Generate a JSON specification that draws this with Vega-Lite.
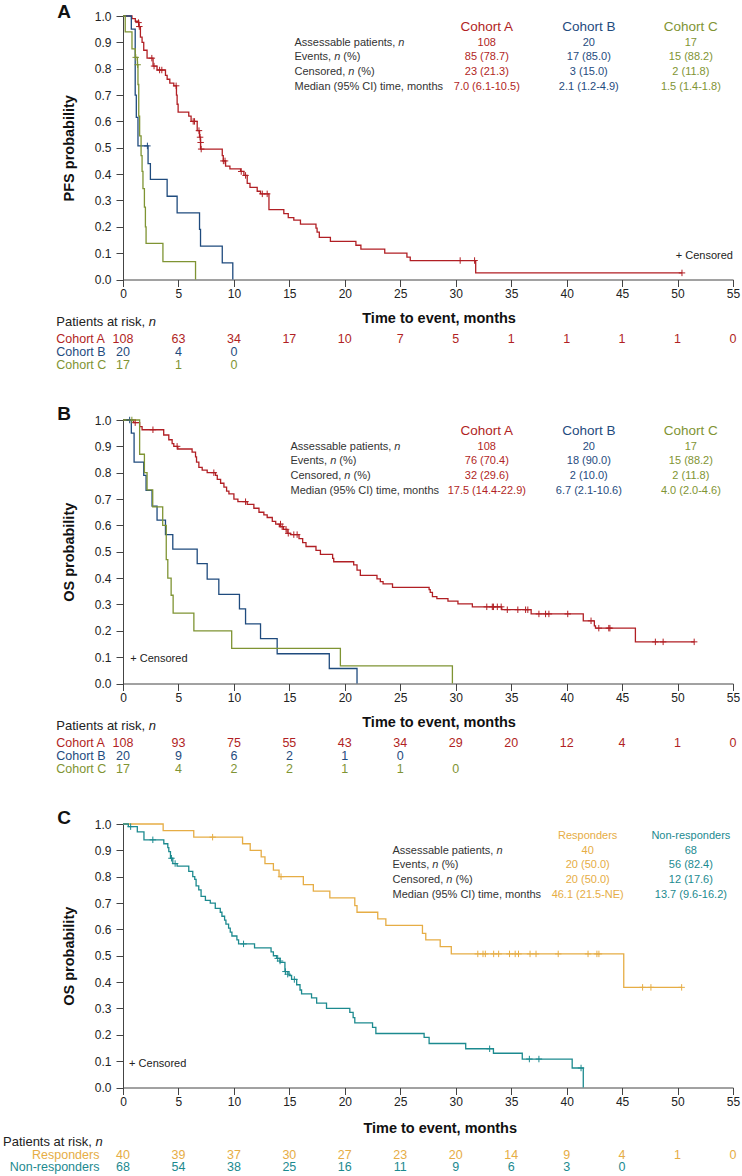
{
"$schema":"https://vega.github.io/schema/vega-lite/v6.json",
"padding":{"left":3,"top":3,"right":4,"bottom":2},
"bounds":"flush",
"spacing":40,
"config":{"font":"Liberation Sans","view":{"stroke":null},"axis":{"grid":false,"domainColor":"#444","tickColor":"#444","labelColor":"#222","labelFontSize":12,"tickSize":7,"domainWidth":1,"tickWidth":1,"labelOverlap":false}},
"datasets":{
"km":[
{"p":"A","g":"Cohort A","t":0,"s":1},{"p":"A","g":"Cohort A","t":0.81,"s":0.99},{"p":"A","g":"Cohort A","t":1.11,"s":0.98},{"p":"A","g":"Cohort A","t":1.42,"s":0.96},{"p":"A","g":"Cohort A","t":1.57,"s":0.92},{"p":"A","g":"Cohort A","t":1.72,"s":0.9},{"p":"A","g":"Cohort A","t":1.87,"s":0.87},{"p":"A","g":"Cohort A","t":2.17,"s":0.84},{"p":"A","g":"Cohort A","t":2.71,"s":0.81},{"p":"A","g":"Cohort A","t":3.07,"s":0.795},{"p":"A","g":"Cohort A","t":3.83,"s":0.775},{"p":"A","g":"Cohort A","t":3.98,"s":0.76},{"p":"A","g":"Cohort A","t":4.22,"s":0.745},{"p":"A","g":"Cohort A","t":4.58,"s":0.735},{"p":"A","g":"Cohort A","t":4.82,"s":0.7},{"p":"A","g":"Cohort A","t":4.88,"s":0.665},{"p":"A","g":"Cohort A","t":4.97,"s":0.635},{"p":"A","g":"Cohort A","t":5.93,"s":0.62},{"p":"A","g":"Cohort A","t":6.14,"s":0.6},{"p":"A","g":"Cohort A","t":6.69,"s":0.565},{"p":"A","g":"Cohort A","t":6.9,"s":0.54},{"p":"A","g":"Cohort A","t":6.99,"s":0.495},{"p":"A","g":"Cohort A","t":8.95,"s":0.47},{"p":"A","g":"Cohort A","t":9.04,"s":0.45},{"p":"A","g":"Cohort A","t":9.25,"s":0.43},{"p":"A","g":"Cohort A","t":9.64,"s":0.42},{"p":"A","g":"Cohort A","t":10.6,"s":0.41},{"p":"A","g":"Cohort A","t":10.9,"s":0.395},{"p":"A","g":"Cohort A","t":11.2,"s":0.365},{"p":"A","g":"Cohort A","t":11.45,"s":0.35},{"p":"A","g":"Cohort A","t":12.1,"s":0.335},{"p":"A","g":"Cohort A","t":12.4,"s":0.325},{"p":"A","g":"Cohort A","t":13.16,"s":0.265},{"p":"A","g":"Cohort A","t":14.5,"s":0.25},{"p":"A","g":"Cohort A","t":14.9,"s":0.235},{"p":"A","g":"Cohort A","t":15.4,"s":0.225},{"p":"A","g":"Cohort A","t":16,"s":0.21},{"p":"A","g":"Cohort A","t":17.4,"s":0.195},{"p":"A","g":"Cohort A","t":17.5,"s":0.18},{"p":"A","g":"Cohort A","t":17.7,"s":0.16},{"p":"A","g":"Cohort A","t":18.7,"s":0.145},{"p":"A","g":"Cohort A","t":21,"s":0.13},{"p":"A","g":"Cohort A","t":21.45,"s":0.115},{"p":"A","g":"Cohort A","t":23.6,"s":0.1},{"p":"A","g":"Cohort A","t":25.6,"s":0.085},{"p":"A","g":"Cohort A","t":25.9,"s":0.072},{"p":"A","g":"Cohort A","t":31.8,"s":0.025},{"p":"A","g":"Cohort A","t":50.4,"s":0.025},
{"p":"A","g":"Cohort B","t":0,"s":1},{"p":"A","g":"Cohort B","t":0.75,"s":0.95},{"p":"A","g":"Cohort B","t":1.1,"s":0.7},{"p":"A","g":"Cohort B","t":1.2,"s":0.615},{"p":"A","g":"Cohort B","t":1.35,"s":0.507},{"p":"A","g":"Cohort B","t":2.26,"s":0.44},{"p":"A","g":"Cohort B","t":2.47,"s":0.38},{"p":"A","g":"Cohort B","t":3.98,"s":0.316},{"p":"A","g":"Cohort B","t":4.88,"s":0.253},{"p":"A","g":"Cohort B","t":6.9,"s":0.19},{"p":"A","g":"Cohort B","t":6.99,"s":0.127},{"p":"A","g":"Cohort B","t":8.95,"s":0.063},{"p":"A","g":"Cohort B","t":9.9,"s":0},
{"p":"A","g":"Cohort C","t":0,"s":1},{"p":"A","g":"Cohort C","t":0.2,"s":0.94},{"p":"A","g":"Cohort C","t":0.81,"s":0.875},{"p":"A","g":"Cohort C","t":1.11,"s":0.843},{"p":"A","g":"Cohort C","t":1.3,"s":0.815},{"p":"A","g":"Cohort C","t":1.35,"s":0.74},{"p":"A","g":"Cohort C","t":1.42,"s":0.62},{"p":"A","g":"Cohort C","t":1.5,"s":0.545},{"p":"A","g":"Cohort C","t":1.63,"s":0.47},{"p":"A","g":"Cohort C","t":1.72,"s":0.41},{"p":"A","g":"Cohort C","t":1.8,"s":0.345},{"p":"A","g":"Cohort C","t":1.93,"s":0.275},{"p":"A","g":"Cohort C","t":2.02,"s":0.2},{"p":"A","g":"Cohort C","t":2.08,"s":0.137},{"p":"A","g":"Cohort C","t":3.6,"s":0.068},{"p":"A","g":"Cohort C","t":6.54,"s":0},
{"p":"B","g":"Cohort A","t":0,"s":1},{"p":"B","g":"Cohort A","t":0.96,"s":0.99},{"p":"B","g":"Cohort A","t":1.5,"s":0.975},{"p":"B","g":"Cohort A","t":1.72,"s":0.963},{"p":"B","g":"Cohort A","t":3.67,"s":0.943},{"p":"B","g":"Cohort A","t":4.13,"s":0.925},{"p":"B","g":"Cohort A","t":4.43,"s":0.91},{"p":"B","g":"Cohort A","t":4.58,"s":0.9},{"p":"B","g":"Cohort A","t":4.94,"s":0.89},{"p":"B","g":"Cohort A","t":6.23,"s":0.878},{"p":"B","g":"Cohort A","t":6.54,"s":0.86},{"p":"B","g":"Cohort A","t":6.63,"s":0.84},{"p":"B","g":"Cohort A","t":6.84,"s":0.82},{"p":"B","g":"Cohort A","t":7.14,"s":0.81},{"p":"B","g":"Cohort A","t":7.59,"s":0.8},{"p":"B","g":"Cohort A","t":8.34,"s":0.79},{"p":"B","g":"Cohort A","t":8.5,"s":0.775},{"p":"B","g":"Cohort A","t":8.8,"s":0.76},{"p":"B","g":"Cohort A","t":9.1,"s":0.745},{"p":"B","g":"Cohort A","t":9.34,"s":0.73},{"p":"B","g":"Cohort A","t":9.55,"s":0.72},{"p":"B","g":"Cohort A","t":10,"s":0.7},{"p":"B","g":"Cohort A","t":10.36,"s":0.69},{"p":"B","g":"Cohort A","t":11.2,"s":0.68},{"p":"B","g":"Cohort A","t":11.8,"s":0.665},{"p":"B","g":"Cohort A","t":12.26,"s":0.65},{"p":"B","g":"Cohort A","t":12.7,"s":0.64},{"p":"B","g":"Cohort A","t":13,"s":0.63},{"p":"B","g":"Cohort A","t":13.46,"s":0.615},{"p":"B","g":"Cohort A","t":13.77,"s":0.605},{"p":"B","g":"Cohort A","t":14.1,"s":0.595},{"p":"B","g":"Cohort A","t":14.46,"s":0.585},{"p":"B","g":"Cohort A","t":14.8,"s":0.57},{"p":"B","g":"Cohort A","t":15.1,"s":0.565},{"p":"B","g":"Cohort A","t":15.87,"s":0.55},{"p":"B","g":"Cohort A","t":16.2,"s":0.535},{"p":"B","g":"Cohort A","t":16.5,"s":0.52},{"p":"B","g":"Cohort A","t":17.4,"s":0.505},{"p":"B","g":"Cohort A","t":17.8,"s":0.49},{"p":"B","g":"Cohort A","t":18.9,"s":0.475},{"p":"B","g":"Cohort A","t":19,"s":0.462},{"p":"B","g":"Cohort A","t":20.8,"s":0.45},{"p":"B","g":"Cohort A","t":21.1,"s":0.43},{"p":"B","g":"Cohort A","t":21.4,"s":0.41},{"p":"B","g":"Cohort A","t":22.9,"s":0.397},{"p":"B","g":"Cohort A","t":23.2,"s":0.387},{"p":"B","g":"Cohort A","t":23.45,"s":0.378},{"p":"B","g":"Cohort A","t":24.3,"s":0.365},{"p":"B","g":"Cohort A","t":27.6,"s":0.356},{"p":"B","g":"Cohort A","t":27.7,"s":0.346},{"p":"B","g":"Cohort A","t":27.9,"s":0.33},{"p":"B","g":"Cohort A","t":28.3,"s":0.322},{"p":"B","g":"Cohort A","t":29.3,"s":0.313},{"p":"B","g":"Cohort A","t":30.2,"s":0.302},{"p":"B","g":"Cohort A","t":31.5,"s":0.291},{"p":"B","g":"Cohort A","t":34.15,"s":0.28},{"p":"B","g":"Cohort A","t":36.8,"s":0.264},{"p":"B","g":"Cohort A","t":41.5,"s":0.238},{"p":"B","g":"Cohort A","t":42.5,"s":0.219},{"p":"B","g":"Cohort A","t":42.6,"s":0.21},{"p":"B","g":"Cohort A","t":46.2,"s":0.158},{"p":"B","g":"Cohort A","t":51.5,"s":0.158},
{"p":"B","g":"Cohort B","t":0,"s":1},{"p":"B","g":"Cohort B","t":0.75,"s":0.95},{"p":"B","g":"Cohort B","t":1,"s":0.84},{"p":"B","g":"Cohort B","t":1.87,"s":0.79},{"p":"B","g":"Cohort B","t":2.08,"s":0.733},{"p":"B","g":"Cohort B","t":2.62,"s":0.673},{"p":"B","g":"Cohort B","t":3.07,"s":0.62},{"p":"B","g":"Cohort B","t":3.83,"s":0.565},{"p":"B","g":"Cohort B","t":4.49,"s":0.51},{"p":"B","g":"Cohort B","t":6.69,"s":0.455},{"p":"B","g":"Cohort B","t":7.59,"s":0.396},{"p":"B","g":"Cohort B","t":8.64,"s":0.338},{"p":"B","g":"Cohort B","t":10.5,"s":0.283},{"p":"B","g":"Cohort B","t":11.05,"s":0.226},{"p":"B","g":"Cohort B","t":12.4,"s":0.17},{"p":"B","g":"Cohort B","t":13.9,"s":0.113},{"p":"B","g":"Cohort B","t":18.6,"s":0.057},{"p":"B","g":"Cohort B","t":21.1,"s":0},
{"p":"B","g":"Cohort C","t":0,"s":1},{"p":"B","g":"Cohort C","t":1.5,"s":0.87},{"p":"B","g":"Cohort C","t":1.93,"s":0.8},{"p":"B","g":"Cohort C","t":2.17,"s":0.735},{"p":"B","g":"Cohort C","t":2.68,"s":0.67},{"p":"B","g":"Cohort C","t":3.58,"s":0.6},{"p":"B","g":"Cohort C","t":3.9,"s":0.47},{"p":"B","g":"Cohort C","t":4.04,"s":0.4},{"p":"B","g":"Cohort C","t":4.34,"s":0.335},{"p":"B","g":"Cohort C","t":4.52,"s":0.267},{"p":"B","g":"Cohort C","t":6.39,"s":0.2},{"p":"B","g":"Cohort C","t":9.8,"s":0.133},{"p":"B","g":"Cohort C","t":19.6,"s":0.067},{"p":"B","g":"Cohort C","t":29.7,"s":0},
{"p":"C","g":"Responders","t":0,"s":1},{"p":"C","g":"Responders","t":3.62,"s":0.975},{"p":"C","g":"Responders","t":6.38,"s":0.95},{"p":"C","g":"Responders","t":10.78,"s":0.925},{"p":"C","g":"Responders","t":11.47,"s":0.9},{"p":"C","g":"Responders","t":12.46,"s":0.875},{"p":"C","g":"Responders","t":12.8,"s":0.85},{"p":"C","g":"Responders","t":13.56,"s":0.825},{"p":"C","g":"Responders","t":14.07,"s":0.8},{"p":"C","g":"Responders","t":16.26,"s":0.77},{"p":"C","g":"Responders","t":17.16,"s":0.745},{"p":"C","g":"Responders","t":18.65,"s":0.72},{"p":"C","g":"Responders","t":20.9,"s":0.69},{"p":"C","g":"Responders","t":21.1,"s":0.665},{"p":"C","g":"Responders","t":22.97,"s":0.64},{"p":"C","g":"Responders","t":23.7,"s":0.615},{"p":"C","g":"Responders","t":27,"s":0.585},{"p":"C","g":"Responders","t":27.3,"s":0.56},{"p":"C","g":"Responders","t":28.6,"s":0.535},{"p":"C","g":"Responders","t":29.6,"s":0.507},{"p":"C","g":"Responders","t":45.15,"s":0.38},{"p":"C","g":"Responders","t":50.37,"s":0.38},
{"p":"C","g":"Non-responders","t":0,"s":1},{"p":"C","g":"Non-responders","t":0.48,"s":0.99},{"p":"C","g":"Non-responders","t":1.29,"s":0.97},{"p":"C","g":"Non-responders","t":1.89,"s":0.94},{"p":"C","g":"Non-responders","t":3.68,"s":0.925},{"p":"C","g":"Non-responders","t":4.04,"s":0.91},{"p":"C","g":"Non-responders","t":4.13,"s":0.895},{"p":"C","g":"Non-responders","t":4.28,"s":0.87},{"p":"C","g":"Non-responders","t":4.49,"s":0.85},{"p":"C","g":"Non-responders","t":4.88,"s":0.84},{"p":"C","g":"Non-responders","t":5.93,"s":0.82},{"p":"C","g":"Non-responders","t":6.29,"s":0.8},{"p":"C","g":"Non-responders","t":6.47,"s":0.79},{"p":"C","g":"Non-responders","t":6.59,"s":0.765},{"p":"C","g":"Non-responders","t":6.83,"s":0.75},{"p":"C","g":"Non-responders","t":7.04,"s":0.725},{"p":"C","g":"Non-responders","t":7.43,"s":0.71},{"p":"C","g":"Non-responders","t":7.87,"s":0.7},{"p":"C","g":"Non-responders","t":8.32,"s":0.68},{"p":"C","g":"Non-responders","t":8.77,"s":0.665},{"p":"C","g":"Non-responders","t":8.92,"s":0.65},{"p":"C","g":"Non-responders","t":9.16,"s":0.635},{"p":"C","g":"Non-responders","t":9.28,"s":0.62},{"p":"C","g":"Non-responders","t":9.52,"s":0.605},{"p":"C","g":"Non-responders","t":9.67,"s":0.59},{"p":"C","g":"Non-responders","t":9.82,"s":0.575},{"p":"C","g":"Non-responders","t":10.27,"s":0.56},{"p":"C","g":"Non-responders","t":10.42,"s":0.545},{"p":"C","g":"Non-responders","t":11.86,"s":0.53},{"p":"C","g":"Non-responders","t":13.35,"s":0.515},{"p":"C","g":"Non-responders","t":13.56,"s":0.5},{"p":"C","g":"Non-responders","t":13.86,"s":0.49},{"p":"C","g":"Non-responders","t":14.16,"s":0.475},{"p":"C","g":"Non-responders","t":14.6,"s":0.44},{"p":"C","g":"Non-responders","t":14.97,"s":0.425},{"p":"C","g":"Non-responders","t":15.2,"s":0.41},{"p":"C","g":"Non-responders","t":15.66,"s":0.39},{"p":"C","g":"Non-responders","t":15.96,"s":0.37},{"p":"C","g":"Non-responders","t":16.1,"s":0.355},{"p":"C","g":"Non-responders","t":17,"s":0.34},{"p":"C","g":"Non-responders","t":17.46,"s":0.32},{"p":"C","g":"Non-responders","t":18.35,"s":0.3},{"p":"C","g":"Non-responders","t":20.45,"s":0.285},{"p":"C","g":"Non-responders","t":20.75,"s":0.265},{"p":"C","g":"Non-responders","t":20.9,"s":0.245},{"p":"C","g":"Non-responders","t":22.5,"s":0.228},{"p":"C","g":"Non-responders","t":22.8,"s":0.205},{"p":"C","g":"Non-responders","t":27.15,"s":0.19},{"p":"C","g":"Non-responders","t":27.6,"s":0.167},{"p":"C","g":"Non-responders","t":30.9,"s":0.147},{"p":"C","g":"Non-responders","t":33.4,"s":0.13},{"p":"C","g":"Non-responders","t":36,"s":0.108},{"p":"C","g":"Non-responders","t":40.5,"s":0.074},{"p":"C","g":"Non-responders","t":41.5,"s":0}
],
"cens":[
{"p":"A","g":"Cohort A","t":1.4,"s":0.975},{"p":"A","g":"Cohort A","t":1.47,"s":0.96},{"p":"A","g":"Cohort A","t":2.6,"s":0.84},{"p":"A","g":"Cohort A","t":2.8,"s":0.81},{"p":"A","g":"Cohort A","t":3.3,"s":0.795},{"p":"A","g":"Cohort A","t":3.5,"s":0.795},{"p":"A","g":"Cohort A","t":4.79,"s":0.735},{"p":"A","g":"Cohort A","t":6.33,"s":0.6},{"p":"A","g":"Cohort A","t":6.45,"s":0.6},{"p":"A","g":"Cohort A","t":6.85,"s":0.565},{"p":"A","g":"Cohort A","t":6.95,"s":0.54},{"p":"A","g":"Cohort A","t":7,"s":0.52},{"p":"A","g":"Cohort A","t":7.05,"s":0.495},{"p":"A","g":"Cohort A","t":9.05,"s":0.45},{"p":"A","g":"Cohort A","t":9.2,"s":0.45},{"p":"A","g":"Cohort A","t":10.66,"s":0.41},{"p":"A","g":"Cohort A","t":11.05,"s":0.395},{"p":"A","g":"Cohort A","t":12.56,"s":0.325},{"p":"A","g":"Cohort A","t":13,"s":0.325},{"p":"A","g":"Cohort A","t":30.4,"s":0.072},{"p":"A","g":"Cohort A","t":31.7,"s":0.072},{"p":"A","g":"Cohort A","t":50.4,"s":0.025},
{"p":"A","g":"Cohort B","t":2.2,"s":0.507},
{"p":"A","g":"Cohort C","t":1.15,"s":0.843},{"p":"A","g":"Cohort C","t":1.32,"s":0.815},
{"p":"B","g":"Cohort A","t":1.1,"s":0.99},{"p":"B","g":"Cohort A","t":2.7,"s":0.963},{"p":"B","g":"Cohort A","t":4.88,"s":0.9},{"p":"B","g":"Cohort A","t":8.19,"s":0.8},{"p":"B","g":"Cohort A","t":11.05,"s":0.69},{"p":"B","g":"Cohort A","t":14.2,"s":0.605},{"p":"B","g":"Cohort A","t":14.35,"s":0.595},{"p":"B","g":"Cohort A","t":14.7,"s":0.585},{"p":"B","g":"Cohort A","t":14.9,"s":0.57},{"p":"B","g":"Cohort A","t":15.4,"s":0.565},{"p":"B","g":"Cohort A","t":15.7,"s":0.565},{"p":"B","g":"Cohort A","t":32.8,"s":0.291},{"p":"B","g":"Cohort A","t":33.3,"s":0.291},{"p":"B","g":"Cohort A","t":33.4,"s":0.291},{"p":"B","g":"Cohort A","t":33.75,"s":0.291},{"p":"B","g":"Cohort A","t":34.1,"s":0.291},{"p":"B","g":"Cohort A","t":34.65,"s":0.28},{"p":"B","g":"Cohort A","t":35.6,"s":0.28},{"p":"B","g":"Cohort A","t":36.3,"s":0.28},{"p":"B","g":"Cohort A","t":36.5,"s":0.28},{"p":"B","g":"Cohort A","t":37.5,"s":0.264},{"p":"B","g":"Cohort A","t":38.1,"s":0.264},{"p":"B","g":"Cohort A","t":38.4,"s":0.264},{"p":"B","g":"Cohort A","t":40.1,"s":0.264},{"p":"B","g":"Cohort A","t":42.2,"s":0.238},{"p":"B","g":"Cohort A","t":42.9,"s":0.21},{"p":"B","g":"Cohort A","t":43.8,"s":0.21},{"p":"B","g":"Cohort A","t":43.9,"s":0.21},{"p":"B","g":"Cohort A","t":48,"s":0.158},{"p":"B","g":"Cohort A","t":48.7,"s":0.158},{"p":"B","g":"Cohort A","t":51.5,"s":0.158},
{"p":"B","g":"Cohort B","t":0.6,"s":1},
{"p":"B","g":"Cohort C","t":0.8,"s":1},
{"p":"C","g":"Responders","t":8.08,"s":0.95},{"p":"C","g":"Responders","t":14.25,"s":0.8},{"p":"C","g":"Responders","t":31.99,"s":0.507},{"p":"C","g":"Responders","t":32.46,"s":0.507},{"p":"C","g":"Responders","t":32.67,"s":0.507},{"p":"C","g":"Responders","t":33.42,"s":0.507},{"p":"C","g":"Responders","t":33.87,"s":0.507},{"p":"C","g":"Responders","t":34.85,"s":0.507},{"p":"C","g":"Responders","t":35.36,"s":0.507},{"p":"C","g":"Responders","t":35.66,"s":0.507},{"p":"C","g":"Responders","t":36.7,"s":0.507},{"p":"C","g":"Responders","t":37.24,"s":0.507},{"p":"C","g":"Responders","t":39.24,"s":0.507},{"p":"C","g":"Responders","t":41.93,"s":0.507},{"p":"C","g":"Responders","t":42.73,"s":0.507},{"p":"C","g":"Responders","t":42.91,"s":0.507},{"p":"C","g":"Responders","t":46.85,"s":0.38},{"p":"C","g":"Responders","t":47.6,"s":0.38},{"p":"C","g":"Responders","t":50.37,"s":0.38},
{"p":"C","g":"Non-responders","t":0.69,"s":0.99},{"p":"C","g":"Non-responders","t":2.69,"s":0.94},{"p":"C","g":"Non-responders","t":4.37,"s":0.87},{"p":"C","g":"Non-responders","t":4.7,"s":0.85},{"p":"C","g":"Non-responders","t":10.87,"s":0.545},{"p":"C","g":"Non-responders","t":13.95,"s":0.49},{"p":"C","g":"Non-responders","t":14.16,"s":0.48},{"p":"C","g":"Non-responders","t":14.65,"s":0.44},{"p":"C","g":"Non-responders","t":14.85,"s":0.43},{"p":"C","g":"Non-responders","t":15.45,"s":0.41},{"p":"C","g":"Non-responders","t":33.06,"s":0.147},{"p":"C","g":"Non-responders","t":36.64,"s":0.108},{"p":"C","g":"Non-responders","t":37.5,"s":0.108},{"p":"C","g":"Non-responders","t":41.3,"s":0.074}
],
"stats":[
{"p":"A","c":"label","r":"Assessable","txt":"Assessable patients, "},{"p":"A","c":"label","r":"Events","txt":"Events, "},{"p":"A","c":"label","r":"Censored","txt":"Censored, "},{"p":"A","c":"label","r":"Median","txt":"Median (95% CI) time, months"},
{"p":"A","c":"Cohort A","r":"Header","txt":"Cohort A"},{"p":"A","c":"Cohort A","r":"Assessable","txt":"108"},{"p":"A","c":"Cohort A","r":"Events","txt":"85 (78.7)"},{"p":"A","c":"Cohort A","r":"Censored","txt":"23 (21.3)"},{"p":"A","c":"Cohort A","r":"Median","txt":"7.0 (6.1-10.5)"},
{"p":"A","c":"Cohort B","r":"Header","txt":"Cohort B"},{"p":"A","c":"Cohort B","r":"Assessable","txt":"20"},{"p":"A","c":"Cohort B","r":"Events","txt":"17 (85.0)"},{"p":"A","c":"Cohort B","r":"Censored","txt":"3 (15.0)"},{"p":"A","c":"Cohort B","r":"Median","txt":"2.1 (1.2-4.9)"},
{"p":"A","c":"Cohort C","r":"Header","txt":"Cohort C"},{"p":"A","c":"Cohort C","r":"Assessable","txt":"17"},{"p":"A","c":"Cohort C","r":"Events","txt":"15 (88.2)"},{"p":"A","c":"Cohort C","r":"Censored","txt":"2 (11.8)"},{"p":"A","c":"Cohort C","r":"Median","txt":"1.5 (1.4-1.8)"},
{"p":"B","c":"label","r":"Assessable","txt":"Assessable patients, "},{"p":"B","c":"label","r":"Events","txt":"Events, "},{"p":"B","c":"label","r":"Censored","txt":"Censored, "},{"p":"B","c":"label","r":"Median","txt":"Median (95% CI) time, months"},
{"p":"B","c":"Cohort A","r":"Header","txt":"Cohort A"},{"p":"B","c":"Cohort A","r":"Assessable","txt":"108"},{"p":"B","c":"Cohort A","r":"Events","txt":"76 (70.4)"},{"p":"B","c":"Cohort A","r":"Censored","txt":"32 (29.6)"},{"p":"B","c":"Cohort A","r":"Median","txt":"17.5 (14.4-22.9)"},
{"p":"B","c":"Cohort B","r":"Header","txt":"Cohort B"},{"p":"B","c":"Cohort B","r":"Assessable","txt":"20"},{"p":"B","c":"Cohort B","r":"Events","txt":"18 (90.0)"},{"p":"B","c":"Cohort B","r":"Censored","txt":"2 (10.0)"},{"p":"B","c":"Cohort B","r":"Median","txt":"6.7 (2.1-10.6)"},
{"p":"B","c":"Cohort C","r":"Header","txt":"Cohort C"},{"p":"B","c":"Cohort C","r":"Assessable","txt":"17"},{"p":"B","c":"Cohort C","r":"Events","txt":"15 (88.2)"},{"p":"B","c":"Cohort C","r":"Censored","txt":"2 (11.8)"},{"p":"B","c":"Cohort C","r":"Median","txt":"4.0 (2.0-4.6)"},
{"p":"C","c":"label","r":"Assessable","txt":"Assessable patients, "},{"p":"C","c":"label","r":"Events","txt":"Events, "},{"p":"C","c":"label","r":"Censored","txt":"Censored, "},{"p":"C","c":"label","r":"Median","txt":"Median (95% CI) time, months"},
{"p":"C","c":"Responders","r":"Header","txt":"Responders"},{"p":"C","c":"Responders","r":"Assessable","txt":"40"},{"p":"C","c":"Responders","r":"Events","txt":"20 (50.0)"},{"p":"C","c":"Responders","r":"Censored","txt":"20 (50.0)"},{"p":"C","c":"Responders","r":"Median","txt":"46.1 (21.5-NE)"},
{"p":"C","c":"Non-responders","r":"Header","txt":"Non-responders"},{"p":"C","c":"Non-responders","r":"Assessable","txt":"68"},{"p":"C","c":"Non-responders","r":"Events","txt":"56 (82.4)"},{"p":"C","c":"Non-responders","r":"Censored","txt":"12 (17.6)"},{"p":"C","c":"Non-responders","r":"Median","txt":"13.7 (9.6-16.2)"}
],
"risk":[
{"p":"A","g":"Cohort A","t":0,"n":"108"},{"p":"A","g":"Cohort A","t":5,"n":"63"},{"p":"A","g":"Cohort A","t":10,"n":"34"},{"p":"A","g":"Cohort A","t":15,"n":"17"},{"p":"A","g":"Cohort A","t":20,"n":"10"},{"p":"A","g":"Cohort A","t":25,"n":"7"},{"p":"A","g":"Cohort A","t":30,"n":"5"},{"p":"A","g":"Cohort A","t":35,"n":"1"},{"p":"A","g":"Cohort A","t":40,"n":"1"},{"p":"A","g":"Cohort A","t":45,"n":"1"},{"p":"A","g":"Cohort A","t":50,"n":"1"},{"p":"A","g":"Cohort A","t":55,"n":"0"},
{"p":"A","g":"Cohort B","t":0,"n":"20"},{"p":"A","g":"Cohort B","t":5,"n":"4"},{"p":"A","g":"Cohort B","t":10,"n":"0"},
{"p":"A","g":"Cohort C","t":0,"n":"17"},{"p":"A","g":"Cohort C","t":5,"n":"1"},{"p":"A","g":"Cohort C","t":10,"n":"0"},
{"p":"B","g":"Cohort A","t":0,"n":"108"},{"p":"B","g":"Cohort A","t":5,"n":"93"},{"p":"B","g":"Cohort A","t":10,"n":"75"},{"p":"B","g":"Cohort A","t":15,"n":"55"},{"p":"B","g":"Cohort A","t":20,"n":"43"},{"p":"B","g":"Cohort A","t":25,"n":"34"},{"p":"B","g":"Cohort A","t":30,"n":"29"},{"p":"B","g":"Cohort A","t":35,"n":"20"},{"p":"B","g":"Cohort A","t":40,"n":"12"},{"p":"B","g":"Cohort A","t":45,"n":"4"},{"p":"B","g":"Cohort A","t":50,"n":"1"},{"p":"B","g":"Cohort A","t":55,"n":"0"},
{"p":"B","g":"Cohort B","t":0,"n":"20"},{"p":"B","g":"Cohort B","t":5,"n":"9"},{"p":"B","g":"Cohort B","t":10,"n":"6"},{"p":"B","g":"Cohort B","t":15,"n":"2"},{"p":"B","g":"Cohort B","t":20,"n":"1"},{"p":"B","g":"Cohort B","t":25,"n":"0"},
{"p":"B","g":"Cohort C","t":0,"n":"17"},{"p":"B","g":"Cohort C","t":5,"n":"4"},{"p":"B","g":"Cohort C","t":10,"n":"2"},{"p":"B","g":"Cohort C","t":15,"n":"2"},{"p":"B","g":"Cohort C","t":20,"n":"1"},{"p":"B","g":"Cohort C","t":25,"n":"1"},{"p":"B","g":"Cohort C","t":30,"n":"0"},
{"p":"C","g":"Responders","t":0,"n":"40"},{"p":"C","g":"Responders","t":5,"n":"39"},{"p":"C","g":"Responders","t":10,"n":"37"},{"p":"C","g":"Responders","t":15,"n":"30"},{"p":"C","g":"Responders","t":20,"n":"27"},{"p":"C","g":"Responders","t":25,"n":"23"},{"p":"C","g":"Responders","t":30,"n":"20"},{"p":"C","g":"Responders","t":35,"n":"14"},{"p":"C","g":"Responders","t":40,"n":"9"},{"p":"C","g":"Responders","t":45,"n":"4"},{"p":"C","g":"Responders","t":50,"n":"1"},{"p":"C","g":"Responders","t":55,"n":"0"},
{"p":"C","g":"Non-responders","t":0,"n":"68"},{"p":"C","g":"Non-responders","t":5,"n":"54"},{"p":"C","g":"Non-responders","t":10,"n":"38"},{"p":"C","g":"Non-responders","t":15,"n":"25"},{"p":"C","g":"Non-responders","t":20,"n":"16"},{"p":"C","g":"Non-responders","t":25,"n":"11"},{"p":"C","g":"Non-responders","t":30,"n":"9"},{"p":"C","g":"Non-responders","t":35,"n":"6"},{"p":"C","g":"Non-responders","t":40,"n":"3"},{"p":"C","g":"Non-responders","t":45,"n":"0"}
]
},
"vconcat":[
 {"width":610,"height":263.5,"resolve":{"scale":{"y":"independent"}},
  "layer":[
   {"layer":[
    {"data":{"name":"km"},"transform":[{"filter":"datum.p==='A'"}],"mark":{"type":"line","interpolate":"step-after","strokeWidth":1.3},
     "encoding":{"x":{"field":"t","type":"quantitative","scale":{"domain":[0,55],"nice":false,"zero":false},"axis":{"values":[0,5,10,15,20,25,30,35,40,45,50,55],"tickCount":12,"title":null,"labelFlush":false,"labelOverlap":false,"labelPadding":2}},
      "y":{"field":"s","type":"quantitative","scale":{"domain":[0,1],"nice":false},"axis":{"values":[0,0.1,0.2,0.3,0.4,0.5,0.6,0.7,0.8,0.9,1],"tickCount":11,"format":".1f","title":"PFS probability","labelOverlap":false,"labelPadding":5,"titlePadding":18,"titleFontSize":14.5,"titleFontWeight":"bold","titleColor":"#111"}},
      "color":{"field":"g","type":"nominal","scale":{"domain":["Cohort A","Cohort B","Cohort C","Responders","Non-responders"],"range":["#B11F24","#1F4B7E","#7F9433","#E6AD45","#1C8A8F"]},"legend":null}}},
    {"data":{"name":"cens"},"transform":[{"filter":"datum.p==='A'"}],"mark":{"type":"point","shape":"M-1,0H1M0,-1V1","size":42,"strokeWidth":1,"filled":false,"opacity":1},
     "encoding":{"x":{"field":"t","type":"quantitative"},"y":{"field":"s","type":"quantitative"},"color":{"field":"g","type":"nominal","legend":null}}},
    {"data":{"values":[{}]},"mark":{"type":"text","text":"+ Censored","align":"right","baseline":"middle","fontSize":11,"color":"#222"},"encoding":{"x":{"datum":55},"y":{"datum":0.091}}},
    {"data":{"values":[{}]},"mark":{"type":"text","text":"A","align":"center","baseline":"middle","fontSize":19,"fontWeight":"bold","color":"#111","dy":-4},"encoding":{"x":{"datum":-5.3},"y":{"datum":1}}}
   ]},
   {"layer":[
    {"data":{"name":"stats"},"transform":[{"filter":"datum.p==='A' && datum.c==='label'"}],"mark":{"type":"text","align":"left","baseline":"middle","fontSize":11,"color":"#333"},
     "encoding":{"x":{"datum":15.46},"y":{"field":"r","type":"ordinal","scale":{"type":"point","domain":["Header","Assessable","Events","Censored","Median","z1","z2","z3","z4","z5","z6","z7","z8","z9","z10","z11","z12","z13"],"padding":0.525,"align":0.802,"round":false},"axis":null},"text":{"field":"txt"}}},
    {"data":{"values":[{}]},"mark":{"type":"text","text":"n","fontStyle":"italic","align":"left","baseline":"middle","fontSize":11,"color":"#333","dx":103.9},"encoding":{"x":{"datum":15.46},"y":{"datum":"Assessable","type":"ordinal"}}},
    {"data":{"values":[{}]},"mark":{"type":"text","text":"n","fontStyle":"italic","align":"left","baseline":"middle","fontSize":11,"color":"#333","dx":39.7},"encoding":{"x":{"datum":15.46},"y":{"datum":"Events","type":"ordinal"}}},
    {"data":{"values":[{}]},"mark":{"type":"text","text":"(%)","align":"left","baseline":"middle","fontSize":11,"color":"#333","dx":48.9},"encoding":{"x":{"datum":15.46},"y":{"datum":"Events","type":"ordinal"}}},
    {"data":{"values":[{}]},"mark":{"type":"text","text":"n","fontStyle":"italic","align":"left","baseline":"middle","fontSize":11,"color":"#333","dx":53.8},"encoding":{"x":{"datum":15.46},"y":{"datum":"Censored","type":"ordinal"}}},
    {"data":{"values":[{}]},"mark":{"type":"text","text":"(%)","align":"left","baseline":"middle","fontSize":11,"color":"#333","dx":63.0},"encoding":{"x":{"datum":15.46},"y":{"datum":"Censored","type":"ordinal"}}},
    {"data":{"name":"stats"},"transform":[{"filter":"datum.p==='A' && datum.c==='Cohort A' && datum.r!=='Header'"}],"mark":{"type":"text","align":"center","baseline":"middle","fontSize":11,"color":"#B11F24"},"encoding":{"x":{"datum":32.8},"y":{"field":"r","type":"ordinal"},"text":{"field":"txt"}}},
    {"data":{"name":"stats"},"transform":[{"filter":"datum.p==='A' && datum.c==='Cohort A' && datum.r==='Header'"}],"mark":{"type":"text","align":"center","baseline":"middle","fontSize":13.5,"color":"#B11F24","dy":-1},"encoding":{"x":{"datum":32.8},"y":{"field":"r","type":"ordinal"},"text":{"field":"txt"}}},
    {"data":{"name":"stats"},"transform":[{"filter":"datum.p==='A' && datum.c==='Cohort B' && datum.r!=='Header'"}],"mark":{"type":"text","align":"center","baseline":"middle","fontSize":11,"color":"#1F4B7E"},"encoding":{"x":{"datum":42.0},"y":{"field":"r","type":"ordinal"},"text":{"field":"txt"}}},
    {"data":{"name":"stats"},"transform":[{"filter":"datum.p==='A' && datum.c==='Cohort B' && datum.r==='Header'"}],"mark":{"type":"text","align":"center","baseline":"middle","fontSize":13.5,"color":"#1F4B7E","dy":-1},"encoding":{"x":{"datum":42.0},"y":{"field":"r","type":"ordinal"},"text":{"field":"txt"}}},
    {"data":{"name":"stats"},"transform":[{"filter":"datum.p==='A' && datum.c==='Cohort C' && datum.r!=='Header'"}],"mark":{"type":"text","align":"center","baseline":"middle","fontSize":11,"color":"#7F9433"},"encoding":{"x":{"datum":51.2},"y":{"field":"r","type":"ordinal"},"text":{"field":"txt"}}},
    {"data":{"name":"stats"},"transform":[{"filter":"datum.p==='A' && datum.c==='Cohort C' && datum.r==='Header'"}],"mark":{"type":"text","align":"center","baseline":"middle","fontSize":13.5,"color":"#7F9433","dy":-1},"encoding":{"x":{"datum":51.2},"y":{"field":"r","type":"ordinal"},"text":{"field":"txt"}}}
   ]}
  ]},
 {"width":610,"height":60,
  "layer":[
   {"data":{"name":"risk"},"transform":[{"filter":"datum.p==='A'"}],"mark":{"type":"text","fontSize":12.5,"baseline":"middle","align":"center"},
    "encoding":{"x":{"field":"t","type":"quantitative","scale":{"domain":[0,55],"nice":false,"zero":false},"axis":null},
     "y":{"field":"g","type":"ordinal","scale":{"type":"point","domain":["header","Cohort A","Cohort B","Cohort C"],"padding":0.808,"align":0.3095,"round":false},"axis":null},
     "text":{"field":"n"},
     "color":{"field":"g","type":"nominal","scale":{"domain":["Cohort A","Cohort B","Cohort C","Responders","Non-responders"],"range":["#B11F24","#1F4B7E","#7F9433","#E6AD45","#1C8A8F"]},"legend":null}}},
   {"data":{"name":"risk"},"transform":[{"filter":"datum.p==='A' && datum.t===0"}],"mark":{"type":"text","fontSize":12.5,"baseline":"middle","align":"left","dx":-66.7},
    "encoding":{"x":{"datum":0},"y":{"field":"g","type":"ordinal"},"text":{"field":"g"},"color":{"field":"g","type":"nominal","legend":null}}},
   {"data":{"values":[{}]},"mark":{"type":"text","text":"Patients at risk, ","fontSize":13,"baseline":"middle","align":"left","dx":-66.7,"dy":-5,"color":"#222"},"encoding":{"x":{"datum":0},"y":{"datum":"header","type":"ordinal"}}},
   {"data":{"values":[{}]},"mark":{"type":"text","text":"n","fontStyle":"italic","fontSize":13,"baseline":"middle","align":"left","dx":25.8,"dy":-5,"color":"#222"},"encoding":{"x":{"datum":0},"y":{"datum":"header","type":"ordinal"}}},
   {"data":{"values":[{}]},"mark":{"type":"text","text":"Time to event, months","fontSize":14.5,"fontWeight":"bold","baseline":"middle","align":"center","dy":-8,"color":"#111"},"encoding":{"x":{"datum":28.5},"y":{"datum":"header","type":"ordinal"}}}
  ]},
 {"width":610,"height":263.5,"resolve":{"scale":{"y":"independent"}},
  "layer":[
   {"layer":[
    {"data":{"name":"km"},"transform":[{"filter":"datum.p==='B'"}],"mark":{"type":"line","interpolate":"step-after","strokeWidth":1.3},
     "encoding":{"x":{"field":"t","type":"quantitative","scale":{"domain":[0,55],"nice":false,"zero":false},"axis":{"values":[0,5,10,15,20,25,30,35,40,45,50,55],"tickCount":12,"title":null,"labelFlush":false,"labelOverlap":false,"labelPadding":2}},
      "y":{"field":"s","type":"quantitative","scale":{"domain":[0,1],"nice":false},"axis":{"values":[0,0.1,0.2,0.3,0.4,0.5,0.6,0.7,0.8,0.9,1],"tickCount":11,"format":".1f","title":"OS probability","labelOverlap":false,"labelPadding":5,"titlePadding":18,"titleFontSize":14.5,"titleFontWeight":"bold","titleColor":"#111"}},
      "color":{"field":"g","type":"nominal","scale":{"domain":["Cohort A","Cohort B","Cohort C","Responders","Non-responders"],"range":["#B11F24","#1F4B7E","#7F9433","#E6AD45","#1C8A8F"]},"legend":null}}},
    {"data":{"name":"cens"},"transform":[{"filter":"datum.p==='B'"}],"mark":{"type":"point","shape":"M-1,0H1M0,-1V1","size":42,"strokeWidth":1,"filled":false,"opacity":1},
     "encoding":{"x":{"field":"t","type":"quantitative"},"y":{"field":"s","type":"quantitative"},"color":{"field":"g","type":"nominal","legend":null}}},
    {"data":{"values":[{}]},"mark":{"type":"text","text":"+ Censored","align":"left","baseline":"middle","fontSize":11,"color":"#222"},"encoding":{"x":{"datum":0.66},"y":{"datum":0.092}}},
    {"data":{"values":[{}]},"mark":{"type":"text","text":"B","align":"center","baseline":"middle","fontSize":19,"fontWeight":"bold","color":"#111","dy":-6},"encoding":{"x":{"datum":-5.3},"y":{"datum":1}}}
   ]},
   {"layer":[
    {"data":{"name":"stats"},"transform":[{"filter":"datum.p==='B' && datum.c==='label'"}],"mark":{"type":"text","align":"left","baseline":"middle","fontSize":11,"color":"#333"},
     "encoding":{"x":{"datum":15.1},"y":{"field":"r","type":"ordinal","scale":{"type":"point","domain":["Header","Assessable","Events","Censored","Median","z1","z2","z3","z4","z5","z6","z7","z8","z9","z10","z11","z12","z13"],"padding":0.525,"align":0.802,"round":false},"axis":null},"text":{"field":"txt"}}},
    {"data":{"values":[{}]},"mark":{"type":"text","text":"n","fontStyle":"italic","align":"left","baseline":"middle","fontSize":11,"color":"#333","dx":103.9},"encoding":{"x":{"datum":15.1},"y":{"datum":"Assessable","type":"ordinal"}}},
    {"data":{"values":[{}]},"mark":{"type":"text","text":"n","fontStyle":"italic","align":"left","baseline":"middle","fontSize":11,"color":"#333","dx":39.7},"encoding":{"x":{"datum":15.1},"y":{"datum":"Events","type":"ordinal"}}},
    {"data":{"values":[{}]},"mark":{"type":"text","text":"(%)","align":"left","baseline":"middle","fontSize":11,"color":"#333","dx":48.9},"encoding":{"x":{"datum":15.1},"y":{"datum":"Events","type":"ordinal"}}},
    {"data":{"values":[{}]},"mark":{"type":"text","text":"n","fontStyle":"italic","align":"left","baseline":"middle","fontSize":11,"color":"#333","dx":53.8},"encoding":{"x":{"datum":15.1},"y":{"datum":"Censored","type":"ordinal"}}},
    {"data":{"values":[{}]},"mark":{"type":"text","text":"(%)","align":"left","baseline":"middle","fontSize":11,"color":"#333","dx":63.0},"encoding":{"x":{"datum":15.1},"y":{"datum":"Censored","type":"ordinal"}}},
    {"data":{"name":"stats"},"transform":[{"filter":"datum.p==='B' && datum.c==='Cohort A' && datum.r!=='Header'"}],"mark":{"type":"text","align":"center","baseline":"middle","fontSize":11,"color":"#B11F24"},"encoding":{"x":{"datum":32.8},"y":{"field":"r","type":"ordinal"},"text":{"field":"txt"}}},
    {"data":{"name":"stats"},"transform":[{"filter":"datum.p==='B' && datum.c==='Cohort A' && datum.r==='Header'"}],"mark":{"type":"text","align":"center","baseline":"middle","fontSize":13.5,"color":"#B11F24","dy":-1},"encoding":{"x":{"datum":32.8},"y":{"field":"r","type":"ordinal"},"text":{"field":"txt"}}},
    {"data":{"name":"stats"},"transform":[{"filter":"datum.p==='B' && datum.c==='Cohort B' && datum.r!=='Header'"}],"mark":{"type":"text","align":"center","baseline":"middle","fontSize":11,"color":"#1F4B7E"},"encoding":{"x":{"datum":42.0},"y":{"field":"r","type":"ordinal"},"text":{"field":"txt"}}},
    {"data":{"name":"stats"},"transform":[{"filter":"datum.p==='B' && datum.c==='Cohort B' && datum.r==='Header'"}],"mark":{"type":"text","align":"center","baseline":"middle","fontSize":13.5,"color":"#1F4B7E","dy":-1},"encoding":{"x":{"datum":42.0},"y":{"field":"r","type":"ordinal"},"text":{"field":"txt"}}},
    {"data":{"name":"stats"},"transform":[{"filter":"datum.p==='B' && datum.c==='Cohort C' && datum.r!=='Header'"}],"mark":{"type":"text","align":"center","baseline":"middle","fontSize":11,"color":"#7F9433"},"encoding":{"x":{"datum":51.2},"y":{"field":"r","type":"ordinal"},"text":{"field":"txt"}}},
    {"data":{"name":"stats"},"transform":[{"filter":"datum.p==='B' && datum.c==='Cohort C' && datum.r==='Header'"}],"mark":{"type":"text","align":"center","baseline":"middle","fontSize":13.5,"color":"#7F9433","dy":-1},"encoding":{"x":{"datum":51.2},"y":{"field":"r","type":"ordinal"},"text":{"field":"txt"}}}
   ]}
  ]},
 {"width":610,"height":60,
  "layer":[
   {"data":{"name":"risk"},"transform":[{"filter":"datum.p==='B'"}],"mark":{"type":"text","fontSize":12.5,"baseline":"middle","align":"center"},
    "encoding":{"x":{"field":"t","type":"quantitative","scale":{"domain":[0,55],"nice":false,"zero":false},"axis":null},
     "y":{"field":"g","type":"ordinal","scale":{"type":"point","domain":["header","Cohort A","Cohort B","Cohort C"],"padding":0.808,"align":0.3095,"round":false},"axis":null},
     "text":{"field":"n"},
     "color":{"field":"g","type":"nominal","scale":{"domain":["Cohort A","Cohort B","Cohort C","Responders","Non-responders"],"range":["#B11F24","#1F4B7E","#7F9433","#E6AD45","#1C8A8F"]},"legend":null}}},
   {"data":{"name":"risk"},"transform":[{"filter":"datum.p==='B' && datum.t===0"}],"mark":{"type":"text","fontSize":12.5,"baseline":"middle","align":"left","dx":-66.7},
    "encoding":{"x":{"datum":0},"y":{"field":"g","type":"ordinal"},"text":{"field":"g"},"color":{"field":"g","type":"nominal","legend":null}}},
   {"data":{"values":[{}]},"mark":{"type":"text","text":"Patients at risk, ","fontSize":13,"baseline":"middle","align":"left","dx":-66.7,"dy":-5,"color":"#222"},"encoding":{"x":{"datum":0},"y":{"datum":"header","type":"ordinal"}}},
   {"data":{"values":[{}]},"mark":{"type":"text","text":"n","fontStyle":"italic","fontSize":13,"baseline":"middle","align":"left","dx":25.8,"dy":-5,"color":"#222"},"encoding":{"x":{"datum":0},"y":{"datum":"header","type":"ordinal"}}},
   {"data":{"values":[{}]},"mark":{"type":"text","text":"Time to event, months","fontSize":14.5,"fontWeight":"bold","baseline":"middle","align":"center","dy":-8,"color":"#111"},"encoding":{"x":{"datum":28.5},"y":{"datum":"header","type":"ordinal"}}}
  ]},
 {"width":610,"height":263.5,"resolve":{"scale":{"y":"independent"}},
  "layer":[
   {"layer":[
    {"data":{"name":"km"},"transform":[{"filter":"datum.p==='C'"}],"mark":{"type":"line","interpolate":"step-after","strokeWidth":1.3},
     "encoding":{"x":{"field":"t","type":"quantitative","scale":{"domain":[0,55],"nice":false,"zero":false},"axis":{"values":[0,5,10,15,20,25,30,35,40,45,50,55],"tickCount":12,"title":null,"labelFlush":false,"labelOverlap":false,"labelPadding":2}},
      "y":{"field":"s","type":"quantitative","scale":{"domain":[0,1],"nice":false},"axis":{"values":[0,0.1,0.2,0.3,0.4,0.5,0.6,0.7,0.8,0.9,1],"tickCount":11,"format":".1f","title":"OS probability","labelOverlap":false,"labelPadding":5,"titlePadding":18,"titleFontSize":14.5,"titleFontWeight":"bold","titleColor":"#111"}},
      "color":{"field":"g","type":"nominal","scale":{"domain":["Cohort A","Cohort B","Cohort C","Responders","Non-responders"],"range":["#B11F24","#1F4B7E","#7F9433","#E6AD45","#1C8A8F"]},"legend":null}}},
    {"data":{"name":"cens"},"transform":[{"filter":"datum.p==='C'"}],"mark":{"type":"point","shape":"M-1,0H1M0,-1V1","size":42,"strokeWidth":1,"filled":false,"opacity":1},
     "encoding":{"x":{"field":"t","type":"quantitative"},"y":{"field":"s","type":"quantitative"},"color":{"field":"g","type":"nominal","legend":null}}},
    {"data":{"values":[{}]},"mark":{"type":"text","text":"+ Censored","align":"left","baseline":"middle","fontSize":11,"color":"#222"},"encoding":{"x":{"datum":0.55},"y":{"datum":0.091}}},
    {"data":{"values":[{}]},"mark":{"type":"text","text":"C","align":"center","baseline":"middle","fontSize":19,"fontWeight":"bold","color":"#111","dy":-6},"encoding":{"x":{"datum":-5.3},"y":{"datum":1}}}
   ]},
   {"layer":[
    {"data":{"name":"stats"},"transform":[{"filter":"datum.p==='C' && datum.c==='label'"}],"mark":{"type":"text","align":"left","baseline":"middle","fontSize":11,"color":"#333"},
     "encoding":{"x":{"datum":24.3},"y":{"field":"r","type":"ordinal","scale":{"type":"point","domain":["Header","Assessable","Events","Censored","Median","z1","z2","z3","z4","z5","z6","z7","z8","z9","z10","z11","z12","z13"],"padding":0.525,"align":0.802,"round":false},"axis":null},"text":{"field":"txt"}}},
    {"data":{"values":[{}]},"mark":{"type":"text","text":"n","fontStyle":"italic","align":"left","baseline":"middle","fontSize":11,"color":"#333","dx":103.9},"encoding":{"x":{"datum":24.3},"y":{"datum":"Assessable","type":"ordinal"}}},
    {"data":{"values":[{}]},"mark":{"type":"text","text":"n","fontStyle":"italic","align":"left","baseline":"middle","fontSize":11,"color":"#333","dx":39.7},"encoding":{"x":{"datum":24.3},"y":{"datum":"Events","type":"ordinal"}}},
    {"data":{"values":[{}]},"mark":{"type":"text","text":"(%)","align":"left","baseline":"middle","fontSize":11,"color":"#333","dx":48.9},"encoding":{"x":{"datum":24.3},"y":{"datum":"Events","type":"ordinal"}}},
    {"data":{"values":[{}]},"mark":{"type":"text","text":"n","fontStyle":"italic","align":"left","baseline":"middle","fontSize":11,"color":"#333","dx":53.8},"encoding":{"x":{"datum":24.3},"y":{"datum":"Censored","type":"ordinal"}}},
    {"data":{"values":[{}]},"mark":{"type":"text","text":"(%)","align":"left","baseline":"middle","fontSize":11,"color":"#333","dx":63.0},"encoding":{"x":{"datum":24.3},"y":{"datum":"Censored","type":"ordinal"}}},
    {"data":{"name":"stats"},"transform":[{"filter":"datum.p==='C' && datum.c==='Responders'"}],"mark":{"type":"text","align":"center","baseline":"middle","fontSize":11,"color":"#E6AD45"},"encoding":{"x":{"datum":41.9},"y":{"field":"r","type":"ordinal"},"text":{"field":"txt"}}},
    {"data":{"name":"stats"},"transform":[{"filter":"datum.p==='C' && datum.c==='Non-responders'"}],"mark":{"type":"text","align":"center","baseline":"middle","fontSize":11,"color":"#1C8A8F"},"encoding":{"x":{"datum":51.2},"y":{"field":"r","type":"ordinal"},"text":{"field":"txt"}}}
   ]}
  ]},
 {"width":610,"height":46,
  "layer":[
   {"data":{"name":"risk"},"transform":[{"filter":"datum.p==='C'"}],"mark":{"type":"text","fontSize":12.5,"baseline":"middle","align":"center"},
    "encoding":{"x":{"field":"t","type":"quantitative","scale":{"domain":[0,55],"nice":false,"zero":false},"axis":null},
     "y":{"field":"g","type":"ordinal","scale":{"type":"point","domain":["title","header","Responders","Non-responders"],"padding":0.2925,"align":0.133,"round":false},"axis":null},
     "text":{"field":"n"},
     "color":{"field":"g","type":"nominal","scale":{"domain":["Cohort A","Cohort B","Cohort C","Responders","Non-responders"],"range":["#B11F24","#1F4B7E","#7F9433","#E6AD45","#1C8A8F"]},"legend":null}}},
   {"data":{"name":"risk"},"transform":[{"filter":"datum.p==='C' && datum.t===0"}],"mark":{"type":"text","fontSize":12.5,"baseline":"middle","align":"right","dx":-23.6},
    "encoding":{"x":{"datum":0},"y":{"field":"g","type":"ordinal"},"text":{"field":"g"},"color":{"field":"g","type":"nominal","legend":null}}},
   {"data":{"values":[{}]},"mark":{"type":"text","text":"Patients at risk, ","fontSize":13,"baseline":"middle","align":"left","dx":-120,"color":"#222"},"encoding":{"x":{"datum":0},"y":{"datum":"header","type":"ordinal"}}},
   {"data":{"values":[{}]},"mark":{"type":"text","text":"n","fontStyle":"italic","fontSize":13,"baseline":"middle","align":"left","dx":-27.5,"color":"#222"},"encoding":{"x":{"datum":0},"y":{"datum":"header","type":"ordinal"}}},
   {"data":{"values":[{}]},"mark":{"type":"text","text":"Time to event, months","fontSize":14.5,"fontWeight":"bold","baseline":"middle","align":"center","color":"#111"},"encoding":{"x":{"datum":28.6},"y":{"datum":"title","type":"ordinal"}}}
  ]}
]
}
